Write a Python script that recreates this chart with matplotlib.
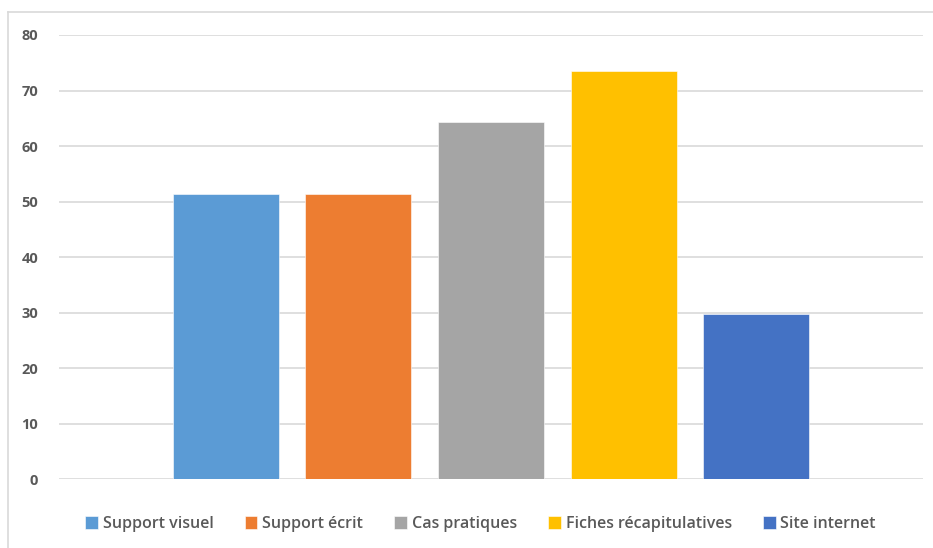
import matplotlib.pyplot as plt
from matplotlib.lines import Line2D

# Données
categories = ["Support visuel", "Support écrit", "Cas pratiques",
              "Fiches récapitulatives", "Site internet"]
valeurs = [51.4, 51.4, 64.3, 73.5, 29.7]
couleurs = ["#5B9BD5", "#ED7D31", "#A5A5A5", "#FFC000", "#4472C4"]
graduations = [0, 10, 20, 30, 40, 50, 60, 70, 80]

plt.rcParams['font.family'] = ['Open Sans', 'DejaVu Sans']
gris_texte = "#595959"

fig = plt.figure(figsize=(9.33, 5.48), dpi=100)
ax = fig.add_axes([59 / 933, 68.7 / 548, 864 / 933, 444.3 / 548])

for i, (nom, val, c) in enumerate(zip(categories, valeurs, couleurs)):
    ax.bar(i, val, width=0.8, color=c, label=nom, zorder=3,
           edgecolor="white", linewidth=0.4)

ax.set_xlim(-1.26, 5.26)
ax.set_ylim(0, 80)
ax.set_yticks(graduations)
ax.set_xticks([])
ax.yaxis.grid(True, color="#D9D9D9", linewidth=1.2, zorder=0)
ax.tick_params(axis="y", length=0, pad=15, labelsize=10.5, labelcolor=gris_texte)
for lab in ax.get_yticklabels():
    lab.set_fontweight("bold")
for s in ax.spines.values():
    s.set_visible(False)

fig.legend(loc="center", bbox_to_anchor=(0.515, 24 / 548), ncol=5,
           frameon=False, handlelength=0.8, handleheight=0.8,
           handletextpad=0.3, columnspacing=1.95,
           prop={"size": 11.5, "weight": "semibold"},
           labelcolor=gris_texte)

# Cadre du graphique
fig.add_artist(Line2D([8 / 933, 8 / 933], [0, 1 - 12 / 548],
                      transform=fig.transFigure, color="#D9D9D9", linewidth=1.2))
fig.add_artist(Line2D([8 / 933, 1], [1 - 12 / 548, 1 - 12 / 548],
                      transform=fig.transFigure, color="#D9D9D9", linewidth=1.2))

fig.savefig("out.png", dpi=100)
